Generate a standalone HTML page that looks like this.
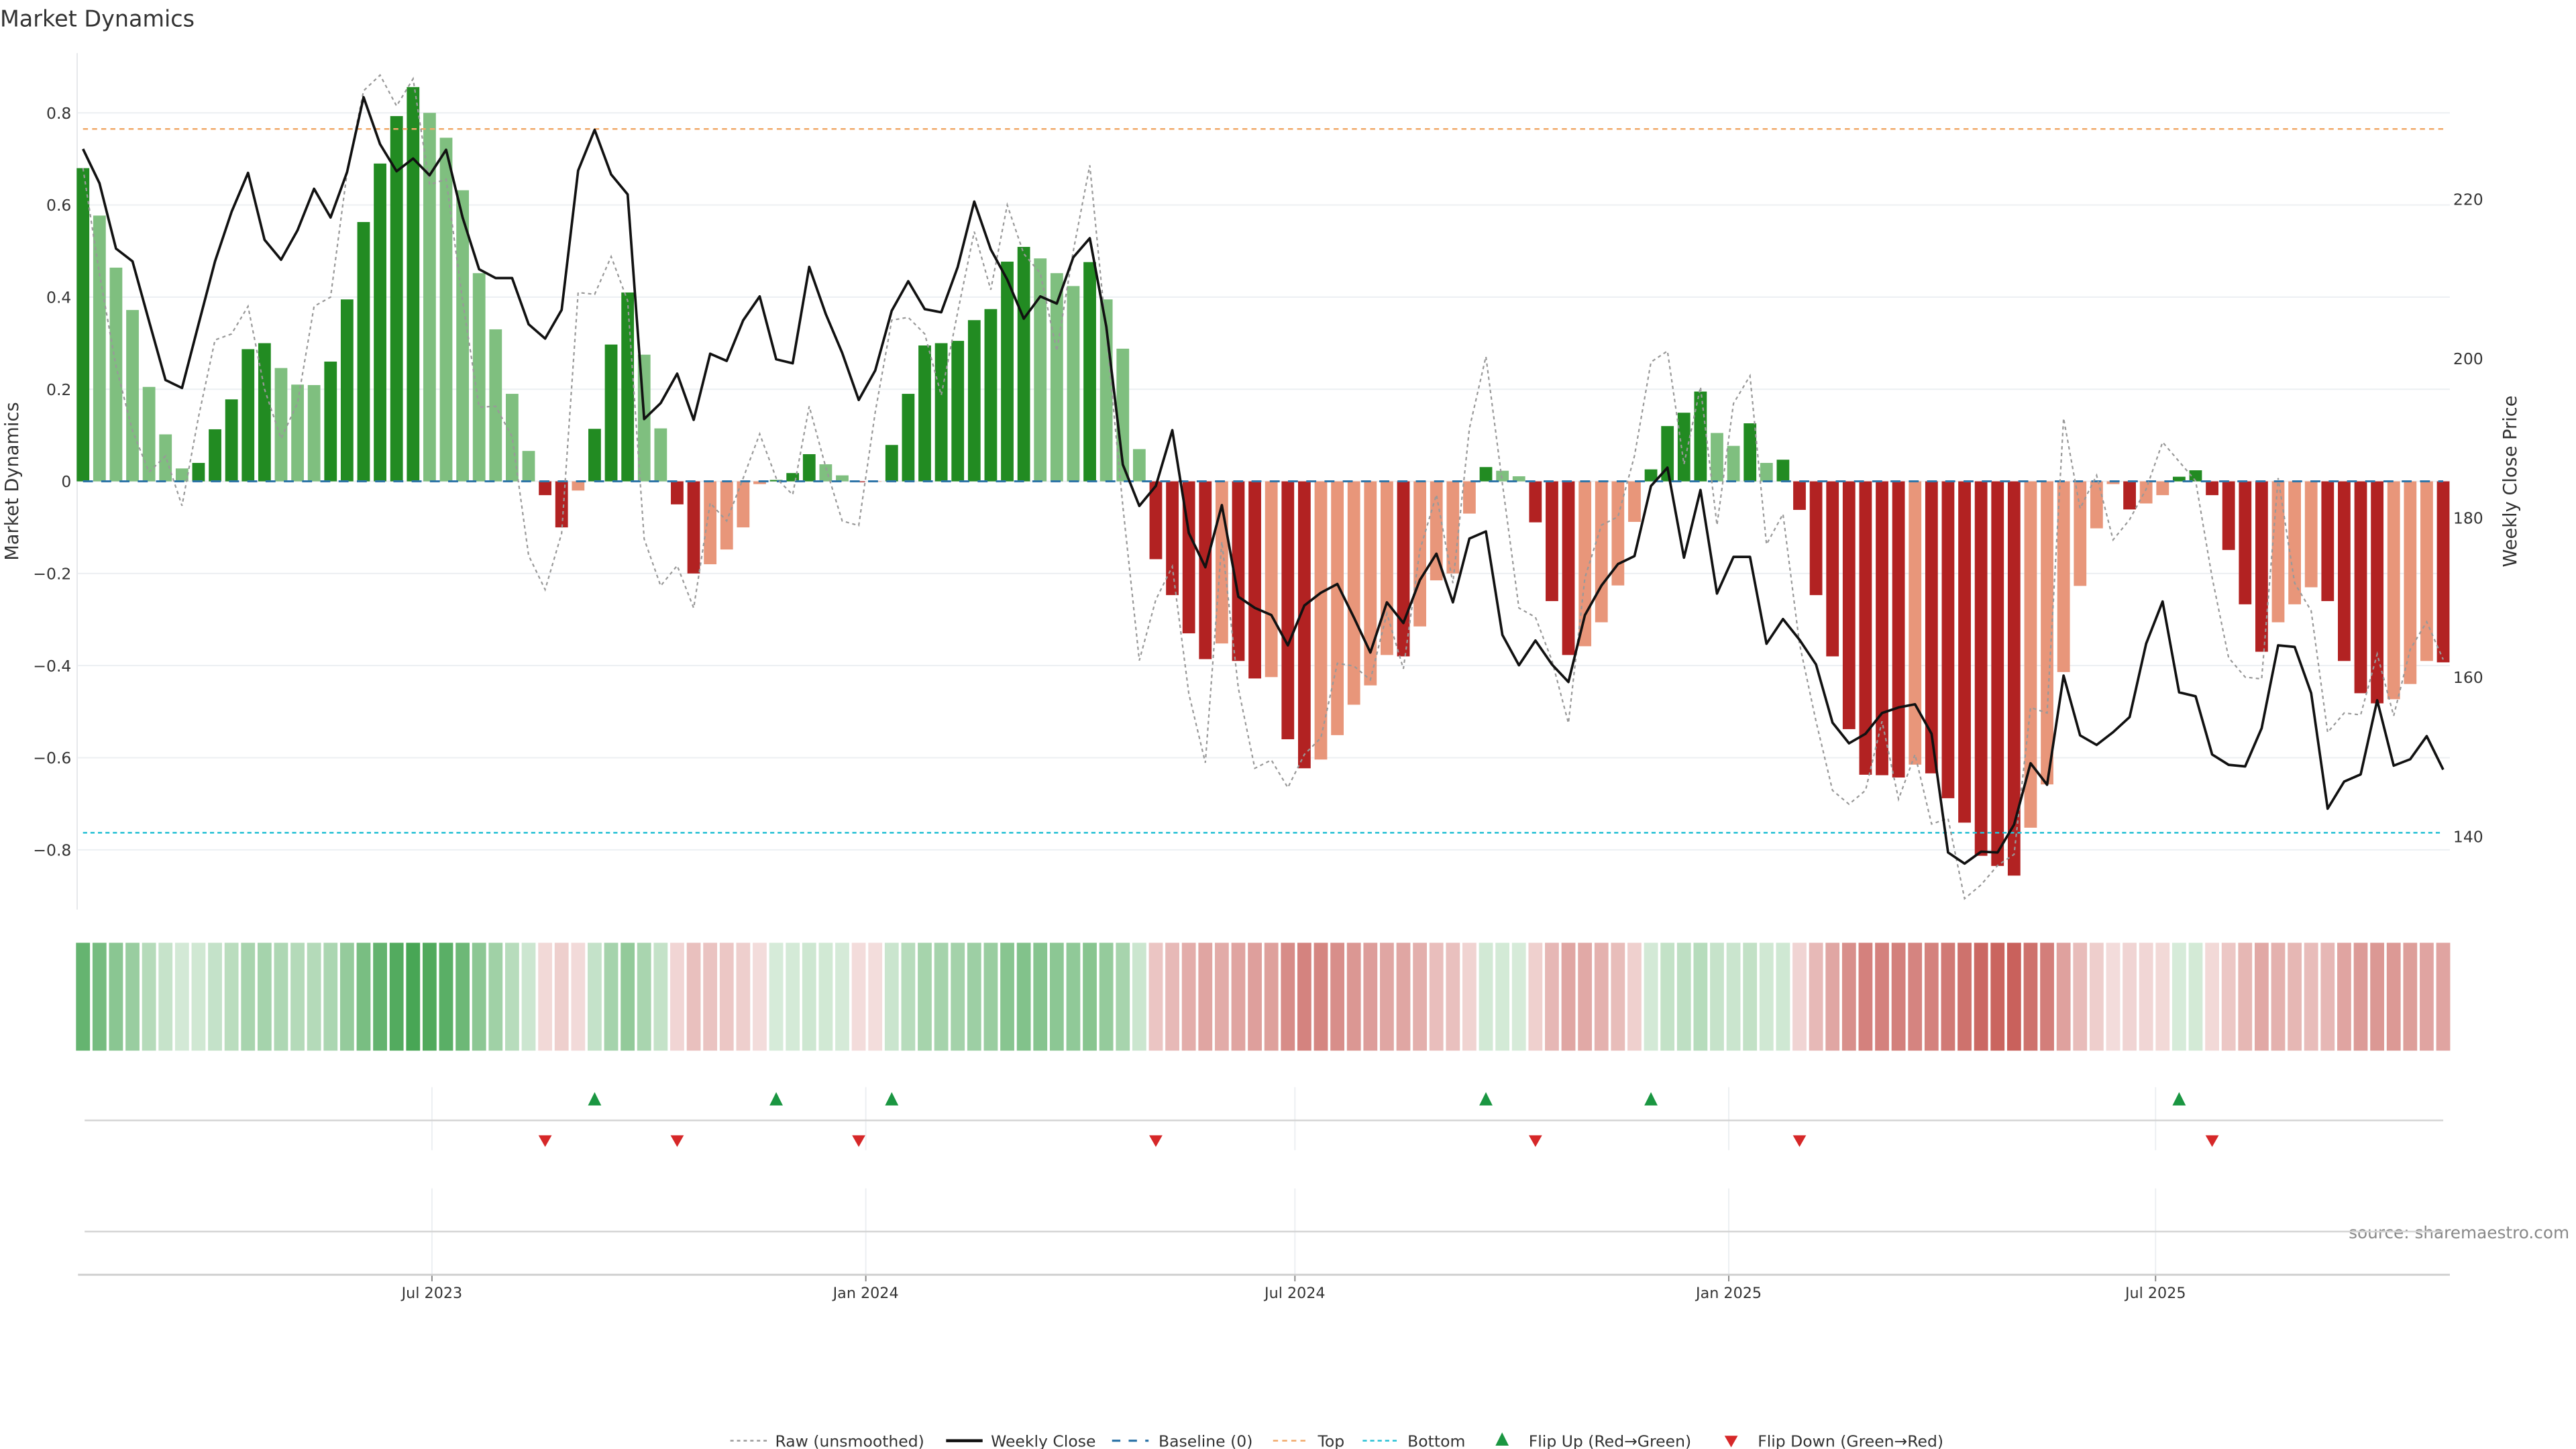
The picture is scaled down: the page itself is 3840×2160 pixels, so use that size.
<!DOCTYPE html>
<html><head><meta charset="utf-8"><title>Market Dynamics</title>
<style>
html,body{margin:0;padding:0;background:#fff;}
svg{display:block;font-family:"DejaVu Sans","Liberation Sans",sans-serif;}
</style></head>
<body>
<svg id="chart" xmlns="http://www.w3.org/2000/svg" width="3840" height="2160" viewBox="0 0 1552 873" preserveAspectRatio="none">
<text x="0" y="16" font-size="13.5" fill="#333">Market Dynamics</text>
<text transform="translate(11,290) rotate(-90)" text-anchor="middle" font-size="11" fill="#333">Market Dynamics</text>
<text transform="translate(1516,290) rotate(-90)" text-anchor="middle" font-size="11" fill="#333">Weekly Close Price</text>
<text x="1548" y="746" text-anchor="end" font-size="10" fill="#888">source: sharemaestro.com</text>
<g id="grid"></g>
<g id="bars"></g>
<g id="lines"></g>
<g id="heat"></g>
<g id="flips"></g>
<g id="legend"></g>
</svg>
<script>
const values = [0.68,0.577,0.464,0.372,0.205,0.102,0.028,0.04,0.113,0.178,0.287,0.30,0.246,0.21,0.209,0.26,0.395,0.563,0.69,0.793,0.856,0.80,0.746,0.632,0.452,0.33,0.19,0.066,-0.03,-0.10,-0.02,0.114,0.297,0.41,0.275,0.115,-0.05,
-0.20,-0.18,-0.148,-0.10,-0.006,0.003,0.018,0.059,0.037,0.013,-0.002,-0.001,0.079,0.19,0.295,0.30,0.305,0.35,0.374,0.477,0.509,0.484,0.452,0.424,0.476,0.395,0.288,0.07,-0.169,-0.247,-0.33,-0.386,-0.352,-0.39,-0.428,-0.425,-0.56,
-0.623,-0.604,-0.551,-0.485,-0.443,-0.377,-0.38,-0.315,-0.215,-0.20,-0.07,0.031,0.023,0.011,-0.089,-0.26,-0.377,-0.358,-0.306,-0.226,-0.088,0.026,0.12,0.149,0.195,0.105,0.077,0.126,0.04,0.047,-0.062,-0.247,-0.38,-0.538,-0.637,-0.638,
-0.643,-0.615,-0.634,-0.688,-0.741,-0.813,-0.835,-0.856,-0.752,-0.658,-0.414,-0.227,-0.102,-0.006,-0.061,-0.048,-0.03,0.01,0.024,-0.03,-0.149,-0.267,-0.37,-0.306,-0.267,-0.23,-0.26,-0.39,-0.46,-0.482,-0.473,-0.44,-0.39,-0.393];
const rawValues = [0.68,0.45,0.25,0.11,0.02,0.055,-0.053,0.14,0.307,0.32,0.38,0.20,0.093,0.17,0.38,0.40,0.67,0.848,0.882,0.815,0.874,0.644,0.656,0.392,0.161,0.163,0.097,-0.161,-0.235,-0.113,0.41,0.406,0.488,0.392,-0.125,-0.227,-0.183,
-0.275,-0.047,-0.086,0.007,0.103,0.007,-0.029,0.163,0.031,-0.086,-0.096,0.15,0.35,0.356,0.32,0.187,0.368,0.542,0.416,0.60,0.494,0.452,0.283,0.50,0.686,0.32,-0.053,-0.389,-0.257,-0.185,-0.461,-0.611,-0.131,-0.449,-0.623,-0.605,-0.665,
-0.593,-0.557,-0.395,-0.401,-0.431,-0.287,-0.407,-0.149,-0.029,-0.221,0.115,0.271,-0.005,-0.275,-0.295,-0.389,-0.525,-0.209,-0.095,-0.077,0.055,0.259,0.283,0.037,0.205,-0.095,0.169,0.229,-0.137,-0.071,-0.353,-0.521,-0.671,-0.701,-0.671,-0.521,
-0.69,-0.593,-0.744,-0.732,-0.906,-0.876,-0.834,-0.81,-0.491,-0.503,0.137,-0.059,0.013,-0.127,-0.083,-0.017,0.085,0.043,0.001,-0.209,-0.383,-0.425,-0.429,0.007,-0.221,-0.281,-0.545,-0.503,-0.507,-0.375,-0.509,-0.365,-0.305,-0.387];
const closePrices = [226.3,222.0,213.8,212.2,204.7,197.3,196.3,204.3,212.2,218.4,223.3,214.9,212.4,216.1,221.3,217.7,223.4,232.8,226.9,223.5,225.1,223.0,226.2,217.7,211.2,210.1,210.1,204.3,202.5,206.1,223.6,228.7,223.1,220.6,192.4,194.4,198.1,
192.3,200.6,199.7,204.8,207.8,199.9,199.4,211.5,205.6,200.7,194.8,198.5,206.0,209.7,206.2,205.8,211.5,219.7,213.7,209.9,205.0,207.8,206.9,212.7,215.1,204.0,186.7,181.5,184.0,191.0,178.1,173.8,181.6,170.1,168.7,167.8,164.0,
169.0,170.6,171.7,167.5,163.1,169.4,166.8,172.2,175.5,169.4,177.4,178.3,165.3,161.5,164.6,161.6,159.4,167.8,171.5,174.2,175.2,184.0,186.3,175.0,183.5,170.5,175.1,175.1,164.2,167.3,164.7,161.6,154.3,151.7,152.9,155.5,
156.2,156.6,152.9,138.0,136.6,138.1,138.0,141.5,149.2,146.5,160.2,152.7,151.5,153.1,155.0,164.2,169.5,158.1,157.6,150.3,149.0,148.8,153.6,164.0,163.8,158.0,143.5,146.9,147.8,157.1,148.9,149.7,152.6,148.4];
const startDate = "2023-02-03";
const leftTicks = [0.8,0.6,0.4,0.2,0,-0.2,-0.4,-0.6,-0.8];
const leftTickLabels = ["0.8","0.6","0.4","0.2","0","\u22120.2","\u22120.4","\u22120.6","\u22120.8"];
const rightTicks = [220,200,180,160,140];
const dateTicks = ["2023-07-01","2024-01-01","2024-07-01","2025-01-01","2025-07-01"];
const dateTickLabels = ["Jul 2023","Jan 2024","Jul 2024","Jan 2025","Jul 2025"];
const topLevel = 0.765;
const bottomLevel = -0.763;

const NS = "http://www.w3.org/2000/svg";
const DAY = 86400000;
const t0 = Date.parse(startDate);
function xDate(ms){ return 50 + (ms - t0)/DAY * (9.944/7); }
function xIdx(i){ return xDate(t0 + i*7*DAY); }
function yL(v){ return 290 - v*277.5; }
function yR(p){ return 120 + (220 - p)*4.8; }
function mk(tag, attrs, parent){ const e=document.createElementNS(NS,tag); for(const k in attrs) e.setAttribute(k,attrs[k]); parent.appendChild(e); return e; }

const grid = document.getElementById('grid');
leftTicks.forEach((v,i)=>{
  const l = mk('line',{x1:47,x2:1476,y1:yL(v),y2:yL(v),stroke:'#eceff2','stroke-width':0.8},grid);
  
  
  const t = mk('text',{x:43,y:yL(v)+3.5,'text-anchor':'end','font-size':9.5,fill:'#333'},grid);
  t.textContent = leftTickLabels[i];
  
  
});
rightTicks.forEach(p=>{
  const t = mk('text',{x:1478,y:yR(p)+3.5,'font-size':9.5,fill:'#333'},grid);
  t.textContent = String(p);
  
  
});
const spine = mk('line',{x1:46.5,x2:46.5,y1:32,y2:548,stroke:'#e6e8eb','stroke-width':0.8},grid);



// bars
const bars = document.getElementById('bars');
values.forEach((v,i)=>{
  const prev = i>0 ? values[i-1] : 0;
  let col;
  if (v>=0) col = (i===0 || v>prev) ? '#228b22' : '#7fbf7f';
  else col = (v<prev) ? '#b22222' : '#e8967a';
  const x = xIdx(i);
  const r = mk('rect',{x:x-3.8,width:7.6,y:Math.min(yL(v),yL(0)),height:Math.abs(yL(v)-yL(0)),fill:col},bars);
  
  
});

// reference lines
const lines = document.getElementById('lines');
const base = mk('line',{x1:50,x2:1472,y1:yL(0),y2:yL(0),stroke:'#2f75a8','stroke-width':1.2,'stroke-dasharray':'6,5'},lines);


const topL = mk('line',{x1:50,x2:1472,y1:yL(topLevel),y2:yL(topLevel),stroke:'#f0a868','stroke-width':1,'stroke-dasharray':'3,2.5'},lines);


const botL = mk('line',{x1:50,x2:1472,y1:yL(bottomLevel),y2:yL(bottomLevel),stroke:'#27c0d4','stroke-width':1,'stroke-dasharray':'2.5,2'},lines);


const rawPts = rawValues.map((v,i)=>xIdx(i).toFixed(2)+','+yL(v).toFixed(2)).join(' ');
const rawLine = mk('polyline',{points:rawPts,fill:'none',stroke:'#999','stroke-width':0.9,'stroke-dasharray':'2,2'},lines);


const closePts = closePrices.map((p,i)=>xIdx(i).toFixed(2)+','+yR(p).toFixed(2)).join(' ');
const closeLine = mk('polyline',{points:closePts,fill:'none',stroke:'#111','stroke-width':1.5,'stroke-linejoin':'round'},lines);



// heatmap
const heat = document.getElementById('heat');
const maxAbs = Math.max(...values.map(Math.abs));
values.forEach((v,i)=>{
  const a = 0.2 + 0.72*Math.abs(v)/maxAbs;
  const col = v>=0 ? `rgba(56,158,70,${a.toFixed(3)})` : `rgba(196,84,78,${a.toFixed(3)})`;
  const r = mk('rect',{x:xIdx(i)-4.2,width:8.4,y:568,height:65,fill:col},heat);
  
  
});

// flip panel & axis
const fl = document.getElementById('flips');
dateTicks.forEach((d,i)=>{
  const x = xDate(Date.parse(d));
  const g1 = mk('line',{x1:x,x2:x,y1:655,y2:693,stroke:'#eceff2','stroke-width':0.8},fl);
  
  
  const g2 = mk('line',{x1:x,x2:x,y1:716,y2:768,stroke:'#eceff2','stroke-width':0.8},fl);
  
  
  const tk = mk('line',{x1:x,x2:x,y1:768,y2:772,stroke:'#888','stroke-width':0.8},fl);
  
  
  const t = mk('text',{x:x,y:782,'text-anchor':'middle','font-size':9,fill:'#333'},fl);
  t.textContent = dateTickLabels[i];
  
  
});
const div1 = mk('line',{x1:51,x2:1472,y1:675,y2:675,stroke:'#d4d4d4','stroke-width':1},fl);


const div2 = mk('line',{x1:51,x2:1472,y1:742,y2:742,stroke:'#d4d4d4','stroke-width':1},fl);


const xaxis = mk('line',{x1:47,x2:1476,y1:768,y2:768,stroke:'#d0d0d0','stroke-width':1.2},fl);


values.forEach((v,i)=>{
  if (i===0) return;
  const p = values[i-1];
  const x = xIdx(i);
  if (p<=0 && v>0){
    const tr = mk('polygon',{points:`${x-4},666 ${x+4},666 ${x},658`,fill:'#1a9641'},fl);
    
    
  } else if (p>0 && v<=0){
    const tr = mk('polygon',{points:`${x-4},684 ${x+4},684 ${x},691`,fill:'#d62728'},fl);
    
    
  }
});

// legend
const lg = document.getElementById('legend');
const Y = 868;
function ltext(x, s, name){
  const t = mk('text',{x:x,y:Y+3.5,'font-size':9.5,fill:'#333'},lg);
  t.textContent = s;
  
  
}
let e;
e = mk('line',{x1:440,x2:462,y1:Y,y2:Y,stroke:'#999','stroke-width':1,'stroke-dasharray':'2,2'},lg);
 
ltext(467,'Raw (unsmoothed)','legend-raw-label');
e = mk('line',{x1:570,x2:592,y1:Y,y2:Y,stroke:'#111','stroke-width':1.8},lg);
 
ltext(597,'Weekly Close','legend-close-label');
e = mk('line',{x1:670,x2:692,y1:Y,y2:Y,stroke:'#2f75a8','stroke-width':1.3,'stroke-dasharray':'5,5'},lg);
 
ltext(698,'Baseline (0)','legend-baseline-label');
e = mk('line',{x1:767,x2:789,y1:Y,y2:Y,stroke:'#f0a868','stroke-width':1,'stroke-dasharray':'3,2.5'},lg);
 
ltext(794,'Top','legend-top-label');
e = mk('line',{x1:821,x2:843,y1:Y,y2:Y,stroke:'#27c0d4','stroke-width':1,'stroke-dasharray':'2.5,2'},lg);
 
ltext(848,'Bottom','legend-bottom-label');
e = mk('polygon',{points:'901,871 909,871 905,863',fill:'#1a9641'},lg);
 
ltext(921,'Flip Up (Red\u2192Green)','legend-flip-up-label');
e = mk('polygon',{points:'1039,865 1047,865 1043,872',fill:'#d62728'},lg);
 
ltext(1059,'Flip Down (Green\u2192Red)','legend-flip-down-label');
</script>
</body></html>
